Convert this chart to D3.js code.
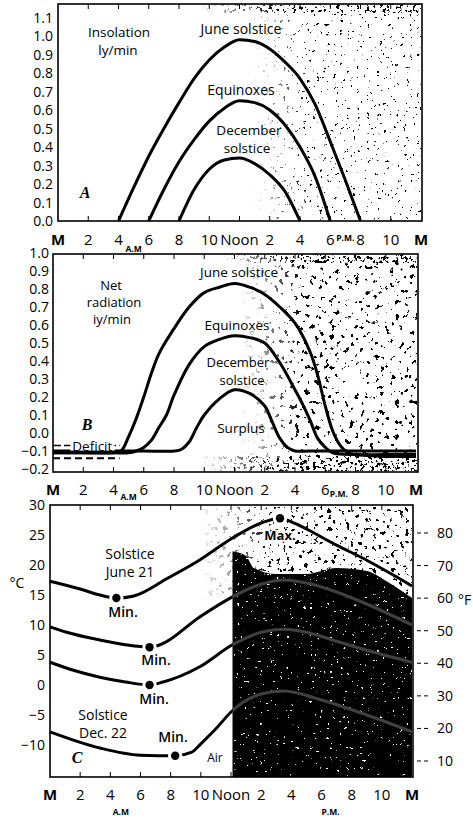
<!DOCTYPE html>
<html>
<head>
<meta charset="utf-8">
<script src="https://cdn.jsdelivr.net/npm/d3@7"></script>
<style>
body { margin: 0; background: #fff; }
svg { display: block; font-family: "Open Sans", sans-serif; }
</style>
</head>
<body>
<div id="chart"></div>
<script>
// x axis: hours of the day
const hourTicks = [0, 2, 4, 6, 8, 10, 12, 14, 16, 18, 20, 22, 24];
const hourLabels = ["M", "2", "4", "6", "8", "10", "Noon", "2", "4", "6", "8", "10", "M"];

// A - insolation, ly/min
const insolTicks = [0, 0.1, 0.2, 0.3, 0.4, 0.5, 0.6, 0.7, 0.8, 0.9, 1.0, 1.1];
const insolJuneHours = [4, 5, 6, 7, 8, 9, 10, 11, 12, 13, 14, 15, 16, 17, 18, 19, 20];
const insolJune = [0, 0.18, 0.35, 0.5, 0.64, 0.77, 0.87, 0.94, 0.98, 0.97, 0.93, 0.86, 0.77, 0.63, 0.43, 0.22, 0];
const insolEquiHours = [6, 7, 8, 9, 10, 11, 12, 13, 14, 15, 16, 17, 18];
const insolEqui = [0, 0.17, 0.32, 0.44, 0.54, 0.61, 0.65, 0.64, 0.6, 0.52, 0.4, 0.24, 0];
const insolDecHours = [8, 9, 10, 11, 12, 13, 14, 15, 16];
const insolDec = [0, 0.17, 0.28, 0.33, 0.34, 0.31, 0.25, 0.16, 0];

// B - net radiation, ly/min
const netTicks = [-0.2, -0.1, 0, 0.1, 0.2, 0.3, 0.4, 0.5, 0.6, 0.7, 0.8, 0.9, 1.0];
const netJuneHours = [0, 2, 4, 4.5, 5, 5.5, 6, 6.5, 7, 8, 9, 10, 11, 12, 13, 14, 15, 16, 17, 17.5, 18, 18.5, 19, 19.5, 20, 22, 24];
const netJune = [-0.11, -0.11, -0.11, -0.1, -0.02, 0.08, 0.2, 0.33, 0.44, 0.58, 0.7, 0.78, 0.81, 0.83, 0.81, 0.77, 0.7, 0.61, 0.45, 0.32, 0.15, 0.01, -0.07, -0.11, -0.12, -0.13, -0.13];
const netEquiHours = [0, 2, 4, 5, 5.5, 6, 6.5, 7, 7.5, 8, 9, 10, 11, 12, 13, 14, 15, 16, 16.5, 17, 17.5, 18, 18.5, 20, 22, 24];
const netEqui = [-0.11, -0.11, -0.11, -0.11, -0.1, -0.08, -0.04, 0.03, 0.1, 0.21, 0.38, 0.48, 0.52, 0.54, 0.53, 0.5, 0.39, 0.24, 0.16, 0.07, -0.03, -0.08, -0.11, -0.12, -0.12, -0.12];
const netDecHours = [0, 2, 4, 6, 8, 8.5, 9, 9.5, 10, 11, 12, 13, 14, 14.5, 15, 15.5, 16, 17, 20, 24];
const netDec = [-0.1, -0.1, -0.1, -0.1, -0.1, -0.09, -0.05, 0.03, 0.1, 0.19, 0.24, 0.22, 0.15, 0.06, -0.03, -0.08, -0.1, -0.1, -0.1, -0.1];
const deficitHours = [0, 4.4];
const deficitUpper = [-0.07, -0.07];
const deficitLower = [-0.14, -0.14];

// C - air temperature, deg C (right axis deg F)
const tempTicks = [-10, -5, 0, 5, 10, 15, 20, 25, 30];
const fahrTicks = [10, 20, 30, 40, 50, 60, 70, 80];
const tempJuneHours = [0, 2, 3.3, 4.4, 5.5, 7.8, 9.9, 12.1, 14, 15.25, 16, 17, 19, 21, 22.5, 24];
const tempJune = [17.3, 16, 15, 14.5, 14.8, 17.8, 20.8, 24.5, 27, 27.8, 27.2, 26, 23.3, 20.8, 18.7, 16.5];
const tempSecondHours = [0, 1.1, 3.3, 5, 6.6, 7.3, 9.9, 12.1, 14, 15.5, 17, 19, 21, 24];
const tempSecond = [9.7, 8.8, 7.5, 6.7, 6.3, 6.7, 11.3, 14.7, 16.8, 17.5, 17, 15.5, 13.5, 10];
const tempThirdHours = [0, 1.5, 3.3, 5, 6.6, 7.5, 9.9, 12.1, 14, 15.5, 17, 19, 21, 24];
const tempThird = [3.8, 2.5, 1.3, 0.5, 0, 0.5, 3, 6.7, 8.8, 9.3, 8.8, 7.3, 5.8, 3.8];
const tempDecHours = [0, 3.3, 6, 8.3, 9.4, 10, 11, 12, 14, 15.5, 18, 21, 24];
const tempDec = [-7.8, -10.5, -11.7, -11.8, -11.2, -9.8, -7.3, -4.5, -1.5, -1, -2.5, -5, -7.8];
const minHours = [4.4, 6.6, 6.6, 8.3];
const minTemps = [14.5, 6.3, 0, -11.8];
const maxHour = 15.25;
const maxTemp = 27.8;
// dark photo area behind the afternoon part of panel C
const shadeHours = [12.1, 13, 13.5, 15, 17, 19, 21, 22.5, 24];
const shadeTop = [22.3, 21.5, 19.5, 18.5, 18.5, 19.5, 19, 17, 14.5];

const svg = d3.select("#chart").append("svg")
    .attr("width", 473)
    .attr("height", 819);
const defs = svg.append("defs");

const zip = (hs, vs) => hs.map((h, i) => [h, vs[i]]);

// scan grain: thresholded noise, black or white specks
function grain(id, seed, freq, cut, white) {
    const c = white ? 1 : 0;
    const f = defs.append("filter").attr("id", id)
        .attr("x", 0).attr("y", 0).attr("width", 1).attr("height", 1)
        .attr("color-interpolation-filters", "sRGB");
    f.append("feTurbulence")
        .attr("type", "fractalNoise")
        .attr("baseFrequency", freq)
        .attr("numOctaves", 3)
        .attr("seed", seed);
    f.append("feColorMatrix")
        .attr("type", "matrix")
        .attr("values", `0 0 0 0 ${c}  0 0 0 0 ${c}  0 0 0 0 ${c}  -30 0 0 0 ${30 * cut}`);
}
// left edge fades in so the grain has no hard border
const fade = defs.append("linearGradient").attr("id", "fade");
fade.append("stop").attr("offset", 0).attr("stop-color", "#000");
fade.append("stop").attr("offset", 0.35).attr("stop-color", "#fff");
let maskCount = 0;
function grainRect(id, x0, y0, x1, y1, clip, soft) {
    const r = svg.append("rect")
        .attr("x", x0).attr("y", y0)
        .attr("width", x1 - x0).attr("height", y1 - y0)
        .attr("fill", "#000")
        .attr("filter", `url(#${id})`);
    if (clip) r.attr("clip-path", clip);
    if (soft) {
        const mid = "m" + (maskCount++);
        defs.append("mask").attr("id", mid)
            .append("rect")
            .attr("x", x0).attr("y", y0)
            .attr("width", x1 - x0).attr("height", y1 - y0)
            .attr("fill", "url(#fade)");
        r.attr("mask", `url(#${mid})`);
    }
}
grain("gA", 4, 0.3, 0.29, false);
grain("gB", 9, 0.2, 0.345, false);
grain("gTop", 2, 0.3, 0.4, false);
grain("gC", 5, 0.22, 0.355, false);
grain("gW", 11, 0.3, 0.27, true);

function drawHours(x, top, bottom, labelY, amY, pmY, am, pm) {
    // inner ticks on top and bottom borders
    svg.append("g").selectAll("line")
        .data(hourTicks.slice(1, -1))
        .join("line")
        .attr("x1", d => x(d)).attr("x2", d => x(d))
        .attr("y1", top).attr("y2", top + 5)
        .attr("stroke", "#000").attr("stroke-width", 1);
    svg.append("g").selectAll("line")
        .data(hourTicks.slice(1, -1))
        .join("line")
        .attr("x1", d => x(d)).attr("x2", d => x(d))
        .attr("y1", bottom).attr("y2", bottom - 5)
        .attr("stroke", "#000").attr("stroke-width", 1);
    svg.append("g").selectAll("text")
        .data(hourTicks)
        .join("text")
        .attr("x", d => x(d))
        .attr("y", labelY)
        .attr("text-anchor", "middle")
        .attr("font-size", 15)
        .attr("font-weight", (d, i) => hourLabels[i] == "M" ? 700 : 400)
        .text((d, i) => hourLabels[i]);
    svg.append("text").attr("x", x(am)).attr("y", amY)
        .attr("text-anchor", "middle").attr("font-size", 8.5).attr("font-weight", 700)
        .text("A.M");
    svg.append("text").attr("x", x(pm)).attr("y", pmY)
        .attr("text-anchor", "middle").attr("font-size", 8.5).attr("font-weight", 700)
        .text("P.M.");
}

function drawBox(x0, x1, y0, y1) {
    svg.append("rect")
        .attr("x", x0).attr("y", y0)
        .attr("width", x1 - x0).attr("height", y1 - y0)
        .attr("fill", "none")
        .attr("stroke", "#000")
        .attr("stroke-width", 1.6);
}

function yLabels(ticks, y, xPos, fmt) {
    svg.append("g").selectAll("text")
        .data(ticks)
        .join("text")
        .attr("x", xPos)
        .attr("y", d => y(d))
        .attr("dy", "0.36em")
        .attr("text-anchor", "end")
        .attr("font-size", 14)
        .text(d => fmt(d));
}

function label(txt, x, y, size, opts) {
    const t = svg.append("text")
        .attr("x", x).attr("y", y)
        .attr("text-anchor", "middle")
        .attr("font-size", size)
        .text(txt);
    if (opts && opts.italic) t.attr("font-family", "Liberation Serif").attr("font-style", "italic").attr("font-weight", 700);
    if (opts && opts.bold) t.attr("font-weight", 700);
    return t;
}

// ---------- panel A ----------
const xA = d3.scaleLinear().domain([0, 24]).range([58, 421]);
const yA = d3.scaleLinear().domain([0, 1]).range([221, 36]);
grainRect("gA", 250, 14, 421, 220, null, true);
grainRect("gTop", 200, 4, 421, 13, null, true);
drawBox(58, 422, 4, 221);
yLabels(insolTicks, yA, 53, d3.format(".1f"));
drawHours(xA, 4, 221, 245, 252, 241, 5, 19);

const lineA = d3.line().x(d => xA(d[0])).y(d => yA(d[1])).curve(d3.curveMonotoneX);
[[insolJuneHours, insolJune], [insolEquiHours, insolEqui], [insolDecHours, insolDec]].forEach(s => {
    svg.append("path")
        .attr("d", lineA(zip(s[0], s[1])))
        .attr("fill", "none")
        .attr("stroke", "#000")
        .attr("stroke-width", 3);
});
label("Insolation", 119, 37, 13.5);
label("ly/min", 118, 55, 13.5);
label("June solstice", 241, 34, 14);
label("Equinoxes", 241, 95, 14);
label("December", 249, 135, 13.5);
label("solstice", 247, 153, 13.5);
label("A", 85, 198, 16, { italic: true });

// ---------- panel B ----------
const xB = d3.scaleLinear().domain([0, 24]).range([53, 416]);
const yB = d3.scaleLinear().domain([-0.2, 1.0]).range([469, 253]);
grainRect("gB", 240, 256, 417, 471, null, true);
grainRect("gTop", 220, 254, 417, 263, null, true);
grainRect("gTop", 200, 456, 417, 471, null, true);
drawBox(53, 418, 254, 472);
yLabels(netTicks, yB, 49, d3.format(".1f"));
drawHours(xB, 254, 472, 495, 500, 497, 5, 18.9);

const lineB = d3.line().x(d => xB(d[0])).y(d => yB(d[1])).curve(d3.curveCatmullRom.alpha(0.5));
svg.append("path")
    .attr("d", lineB(zip(deficitHours, deficitLower)))
    .attr("fill", "none").attr("stroke", "#000")
    .attr("stroke-width", 2).attr("stroke-dasharray", "7,4");
[[netJuneHours, netJune], [netEquiHours, netEqui], [netDecHours, netDec]].forEach(s => {
    svg.append("path")
        .attr("d", lineB(zip(s[0], s[1])))
        .attr("fill", "none")
        .attr("stroke", "#000")
        .attr("stroke-width", 3);
});
svg.append("path")
    .attr("d", lineB(zip(deficitHours, deficitUpper)))
    .attr("fill", "none").attr("stroke", "#000")
    .attr("stroke-width", 1.5).attr("stroke-dasharray", "8,3");
const defText = label("Deficit", xB(2.6), yB(-0.07) + 5, 13.5);
const bb = defText.node().getBBox();
svg.insert("rect", () => defText.node())
    .attr("x", bb.x - 2).attr("y", bb.y + 3)
    .attr("width", bb.width + 4).attr("height", bb.height - 7)
    .attr("fill", "#fff");

label("Net", 111, 290, 13);
label("radiation", 114, 307, 13);
label("iy/min", 112, 324, 13);
label("June solstice", 239, 277, 13.5);
label("Equinoxes", 237, 330, 13.5);
label("December", 238, 367, 13);
label("solstice", 242, 385, 13);
label("Surplus", 241, 433, 13.5);
label("B", 87, 430, 16, { italic: true });

// ---------- panel C ----------
const xC = d3.scaleLinear().domain([0, 24]).range([50, 412]);
const yC = d3.scaleLinear().domain([-10, 30]).range([745, 505]);
const yBottomC = 777;

const shadeArea = d3.area()
    .x(d => xC(d[0]))
    .y0(yBottomC)
    .y1(d => yC(d[1]))
    .curve(d3.curveMonotoneX);
svg.append("clipPath").attr("id", "shadeClip")
    .append("path").attr("d", shadeArea(zip(shadeHours, shadeTop)));
grainRect("gC", 200, 507, 412, 600, null, true);
svg.append("path")
    .attr("d", shadeArea(zip(shadeHours, shadeTop)))
    .attr("fill", "#000");
grainRect("gW", 234, 540, 412, 776, "url(#shadeClip)");

drawBox(50, 413, 505, yBottomC);
yLabels(tempTicks, yC, 45, d => String(d).replace("-", "\u2212"));
drawHours(xC, 505, yBottomC, 800, 815, 815, 4.7, 18.6);

// right axis in deg F
const yF = d3.scaleLinear().domain([10, 80]).range([761, 533]);
svg.append("g").selectAll("line")
    .data(fahrTicks)
    .join("line")
    .attr("x1", 417).attr("x2", 431)
    .attr("y1", d => yF(d)).attr("y2", d => yF(d))
    .attr("stroke", "#000").attr("stroke-width", 1)
    .attr("stroke-dasharray", "4,3");
svg.append("g").selectAll("text")
    .data(fahrTicks)
    .join("text")
    .attr("x", 437)
    .attr("y", d => yF(d))
    .attr("dy", "0.36em")
    .attr("font-size", 14)
    .text(d => d);

const lineC = d3.line().x(d => xC(d[0])).y(d => yC(d[1])).curve(d3.curveMonotoneX);
const tempSeries = [[tempJuneHours, tempJune], [tempSecondHours, tempSecond], [tempThirdHours, tempThird], [tempDecHours, tempDec]];
tempSeries.forEach(s => {
    svg.append("path")
        .attr("d", lineC(zip(s[0], s[1])))
        .attr("fill", "none")
        .attr("stroke", "#000")
        .attr("stroke-width", 3);
});
// lower curves show faintly inside the dark area
tempSeries.slice(1).forEach(s => {
    svg.append("path")
        .attr("d", lineC(zip(s[0], s[1])))
        .attr("clip-path", "url(#shadeClip)")
        .attr("fill", "none")
        .attr("stroke", "#fff")
        .attr("stroke-opacity", 0.25)
        .attr("stroke-width", 3);
});

const dots = minHours.map((h, i) => [h, minTemps[i]]).concat([[maxHour, maxTemp]]);
svg.append("g").selectAll("circle")
    .data(dots)
    .join("circle")
    .attr("cx", d => xC(d[0]))
    .attr("cy", d => yC(d[1]))
    .attr("r", 4.2)
    .attr("fill", "#000")
    .attr("stroke", "#fff")
    .attr("stroke-width", 6)
    .attr("paint-order", "stroke");

label("Min.", 123, 617, 14).attr("font-weight", 600);
label("Min.", 156, 665, 14).attr("font-weight", 600);
label("Min.", 154, 704, 14).attr("font-weight", 600);
label("Min.", 173, 742, 14).attr("font-weight", 600);
label("Max.", 280, 540, 13, { bold: true })
    .attr("stroke", "#fff").attr("stroke-width", 3).attr("paint-order", "stroke");
label("Solstice", 130, 559, 14);
label("June 21", 130, 577, 14);
label("Solstice", 103, 720, 14);
label("Dec. 22", 103, 738, 14);
label("C", 77, 763, 16, { italic: true });
label("Air", 215, 762, 12);
label("\u00b0C", 17, 588, 14);
svg.append("text").attr("x", 458).attr("y", 605).attr("font-size", 14).text("\u00b0F");
</script>
</body>
</html>
